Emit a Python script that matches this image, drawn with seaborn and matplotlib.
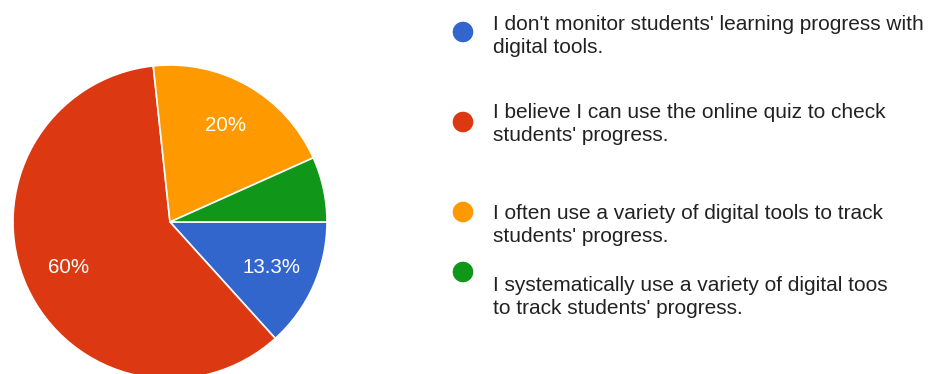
import matplotlib
matplotlib.use("Agg")
import matplotlib.pyplot as plt
import seaborn as sns

# Survey answers and their shares (percent)
answers = [
    "I don't monitor students' learning progress with\ndigital tools.",
    "I believe I can use the online quiz to check\nstudents' progress.",
    "I often use a variety of digital tools to track\nstudents' progress.",
    "I systematically use a variety of digital toos\nto track students' progress.",
]
shares = [13.3, 60.0, 20.0, 6.7]
colors = ["#3366cc", "#dc3912", "#ff9900", "#109618"]

sns.set_theme(style="white")
plt.rcParams["font.family"] = ["Liberation Sans", "DejaVu Sans"]

W, H = 929, 374
fig = plt.figure(figsize=(W / 100, H / 100), dpi=100)
fig.patch.set_facecolor("white")
ax = fig.add_axes([0, 0, 1, 1])


def pct_label(p):
    if p < 10:
        return ""
    s = f"{p:.1f}"
    if s.endswith(".0"):
        s = s[:-2]
    return s + "%"


# pixel-style canvas: x to the right, y downwards
wedges, _, autotexts = ax.pie(
    shares,
    colors=colors,
    startangle=0,
    counterclock=True,
    center=(170, 222),
    radius=157,
    autopct=pct_label,
    pctdistance=0.71,
    wedgeprops=dict(edgecolor="white", linewidth=1.2),
    textprops=dict(color="white", fontsize=14.8),
)
ax.set_xlim(0, W)
ax.set_ylim(H, 0)
ax.set_aspect("equal")
ax.axis("off")

# legend: coloured dots with wrapped answer text
dot_x = [463, 463, 463, 463]
dot_y = [32, 122, 212, 272]
text_baselines = [29.5, 118, 219, 291]
line_gap = 23

sns.scatterplot(
    x=dot_x, y=dot_y, hue=answers, palette=colors, hue_order=answers,
    s=220, linewidth=0, legend=False, ax=ax, zorder=5,
)
for label, base in zip(answers, text_baselines):
    for i, line in enumerate(label.split("\n")):
        ax.text(493, base + i * line_gap, line, fontsize=15.05,
                color="#222222", ha="left", va="baseline")

ax.set_xlim(0, W)
ax.set_ylim(H, 0)
fig.savefig("out.png", dpi=100, facecolor="white")
